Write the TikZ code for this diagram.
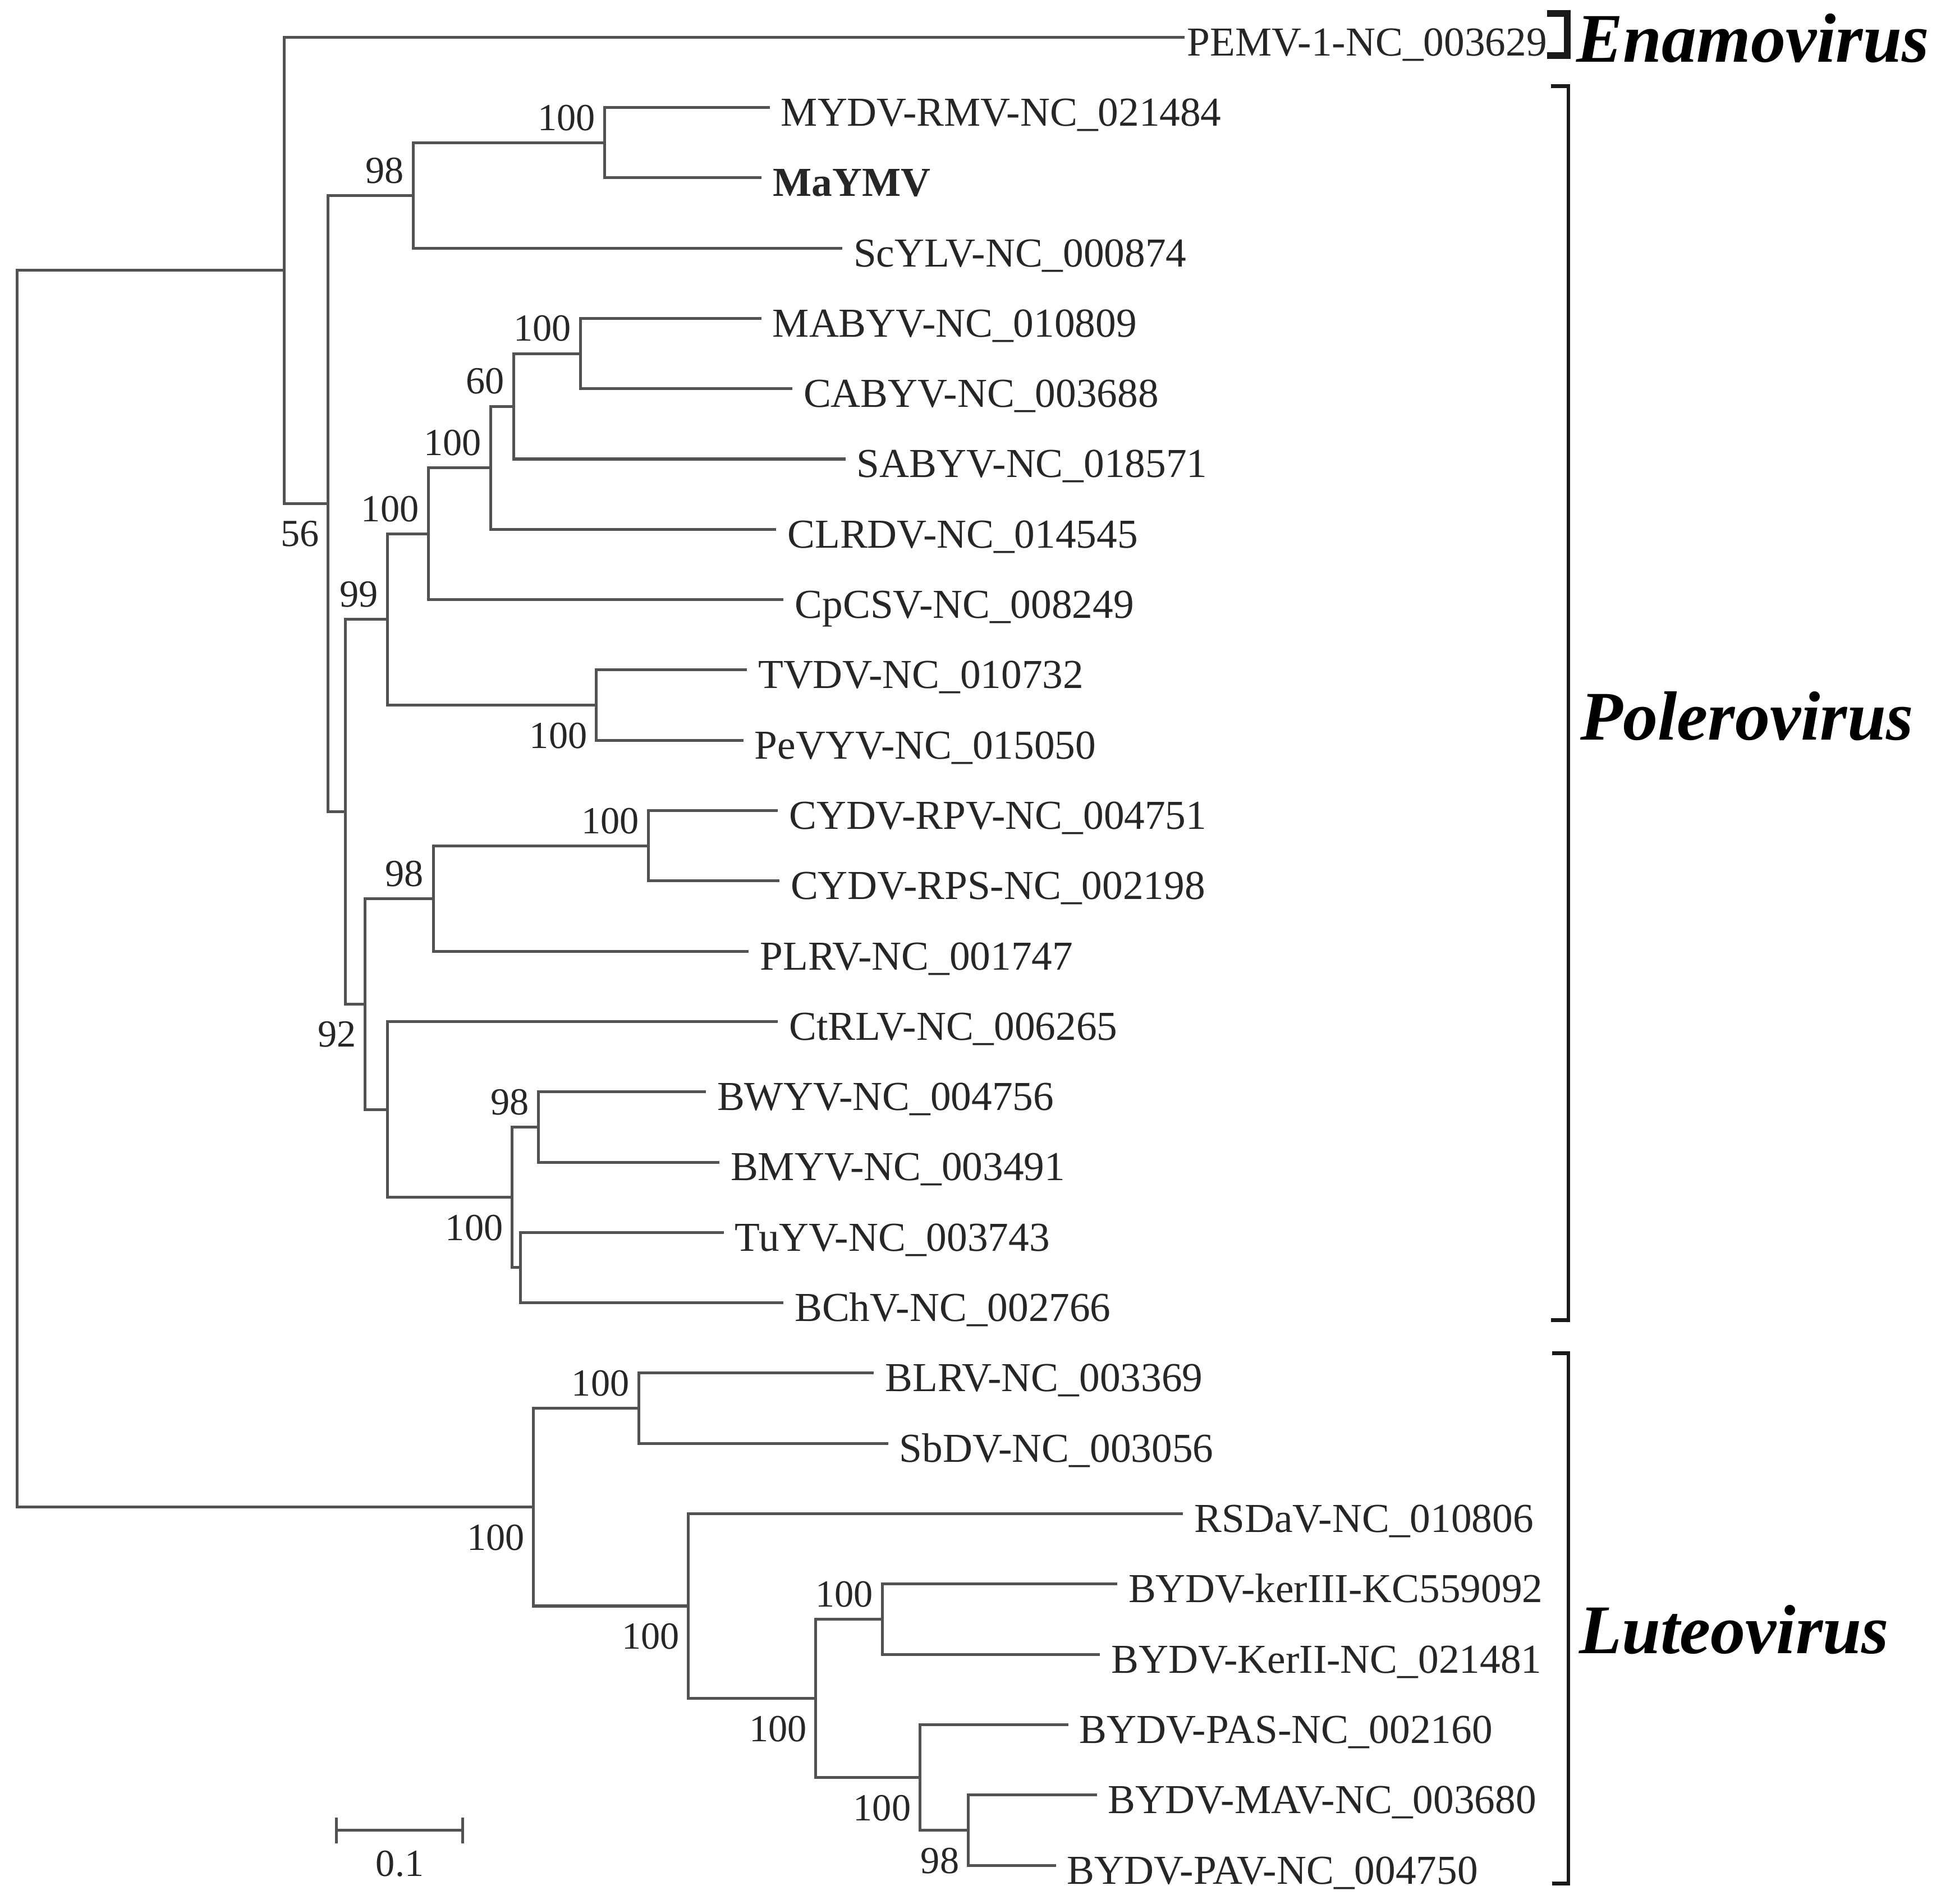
\documentclass[tikz,border=0pt]{standalone}
\usepackage{fontspec}
\setmainfont{Liberation Serif}
\usetikzlibrary{arrows.meta}
\usetikzlibrary{calc}

\tikzset{
  branch/.style={line width=0.65pt, black!68},
  leaf/.style={anchor=west, inner sep=0pt, inner xsep=2.4pt, text=black!85,
    font=\fontsize{9.45}{11}\selectfont, text height=8.5pt, text depth=0pt},
  bootup/.style={anchor=south east, inner sep=0pt, text=black!85,
    font=\fontsize{8.8}{10}\selectfont, xshift=-0.07cm, yshift=0.09cm},
  bootdown/.style={anchor=north east, inner sep=0pt, text=black!85,
    font=\fontsize{8.8}{10}\selectfont, xshift=-0.065cm, yshift=-0.135cm},
  genus/.style={anchor=base west, inner sep=0pt, text=black,
    font=\fontsize{16}{19}\selectfont\bfseries\itshape},
  genbar/.style={line width=0.9pt, black!90}
}

\begin{document}
\begin{tikzpicture}[x=0.01cm,y=-0.01cm]
		\useasboundingbox (0,0) rectangle (1568,1538);
		
		% leaves
		\node [leaf, inner xsep=0.4pt] (t1) at (957,30) {PEMV-1-NC\_003629};
		\foreach \i/\x/\name in {
			2/621.8/MYDV-RMV-NC\_021484, 3/615.3/\textbf{MaYMV},
			4/680.4/ScYLV-NC\_000874, 5/615/MABYV-NC\_010809, 6/640/CABYV-NC\_003688,
			7/683/SABYV-NC\_018571, 8/627/CLRDV-NC\_014545, 9/633/CpCSV-NC\_008249,
			10/603.4/TVDV-NC\_010732, 11/600.5/PeVYV-NC\_015050, 12/628.3/CYDV-RPV-NC\_004751,
			13/629.6/CYDV-RPS-NC\_002198, 14/604.9/PLRV-NC\_001747, 15/628.3/CtRLV-NC\_006265,
			16/570.2/BWYV-NC\_004756, 17/581.1/BMYV-NC\_003491, 18/584.6/TuYV-NC\_003743,
			19/632.8/BChV-NC\_002766, 20/706/BLRV-NC\_003369, 21/717.5/SbDV-NC\_003056,
			22/955.7/RSDaV-NC\_010806, 23/902.5/BYDV-kerIII-KC559092, 24/888.6/BYDV-KerII-NC\_021481,
			25/863/BYDV-PAS-NC\_002160, 26/886/BYDV-MAV-NC\_003680, 27/853/BYDV-PAV-NC\_004750}
			\node [leaf] (t\i) at (\x,{30+(\i-1)*56.8}) {\name};
		
		% inner nodes
		\coordinate (n1) at (488.5,115.2);
		\coordinate (n2) at (334,157.8);
		\coordinate (n3) at (469,285.6);
		\coordinate (n4) at (415,328.2);
		\coordinate (n5) at (396.5,377.9);
		\coordinate (n6) at (346,431.15);
		\coordinate (n7) at (481.5,569.6);
		\coordinate (n8) at (313,500.4);
		\coordinate (n9) at (524,683.2);
		\coordinate (n10) at (350,725.8);
		\coordinate (n11) at (435,910.4);
		\coordinate (n12) at (420.5,1024);
		\coordinate (n13) at (413.5,967.2);
		\coordinate (n14) at (313,896.2);
		\coordinate (n15) at (295,811);
		\coordinate (n16) at (279,655.7);
		\coordinate (n17) at (265,406.75);
		\coordinate (n18) at (229.5,218.4);
		\coordinate (n19) at (516,1137.6);
		\coordinate (n20) at (712.8,1308);
		\coordinate (n21) at (782,1478.4);
		\coordinate (n22) at (743,1435.8);
		\coordinate (n23) at (659,1371.9);
		\coordinate (n24) at (556,1297.35);
		\coordinate (n25) at (431,1217.5);
		\coordinate (R) at (14,718);
		
		\foreach \p/\c in {R/n18, R/n25, n18/t1, n18/n17, n17/n2, n17/n16, n2/n1, n2/t4,
			n1/t2, n1/t3, n16/n8, n16/n15, n8/n6, n8/n7, n6/n5, n6/t9, n5/n4, n5/t8,
			n4/n3, n4/t7, n3/t5, n3/t6, n7/t10, n7/t11, n15/n10, n15/n14, n10/n9, n10/t14,
			n9/t12, n9/t13, n14/t15, n14/n13, n13/n11, n13/n12, n11/t16, n11/t17,
			n12/t18, n12/t19, n25/n19, n25/n24, n19/t20, n19/t21, n24/t22, n24/n23,
			n23/n20, n23/n22, n20/t23, n20/t24, n22/t25, n22/n21, n21/t26, n21/t27}
			\draw [branch] (\p) |- (\c);
		
		% bootstrap values
		\foreach \c/\v in {n1/100, n2/98, n3/100, n4/60, n5/100, n6/100, n8/99,
			n9/100, n10/98, n11/98, n19/100, n20/100}
			\node [bootup] (b\c) at (\c) {\v};
		\foreach \c/\v in {n7/100, n13/100, n15/92, n17/56, n21/98, n22/100,
			n23/100, n24/100, n25/100}
			\node [bootdown] (b\c) at (\c) {\v};
		
		% genera
		\draw [genbar, line width=1.5pt] (1250,11) -| (1266,45) -- (1250,45);
		\draw [genbar] (1253,69.5) -| (1267,1066.6) -- (1253,1066.6);
		\draw [genbar] (1254,1093.2) -| (1267,1521.6) -- (1254,1521.6);
		\node [genus] (gE) at (1273,50) {Enamovirus};
		\node [genus] (gP) at (1276,597.6) {Polerovirus};
		\node [genus] (gL) at (1275,1335.8) {Luteovirus};
		
		% scale bar
		\coordinate (s0) at (270.6,1478.6);
		\coordinate (s1) at (374.7,1478.6);
		\draw [branch, {Bar[width=0.21cm]}-{Bar[width=0.21cm]}] (s0) -- (s1);
		\node [text=black!85, font=\fontsize{8.8}{10}\selectfont, inner sep=0pt] (sl) at (323,1505.5) {0.1};
\end{tikzpicture}
\end{document}
